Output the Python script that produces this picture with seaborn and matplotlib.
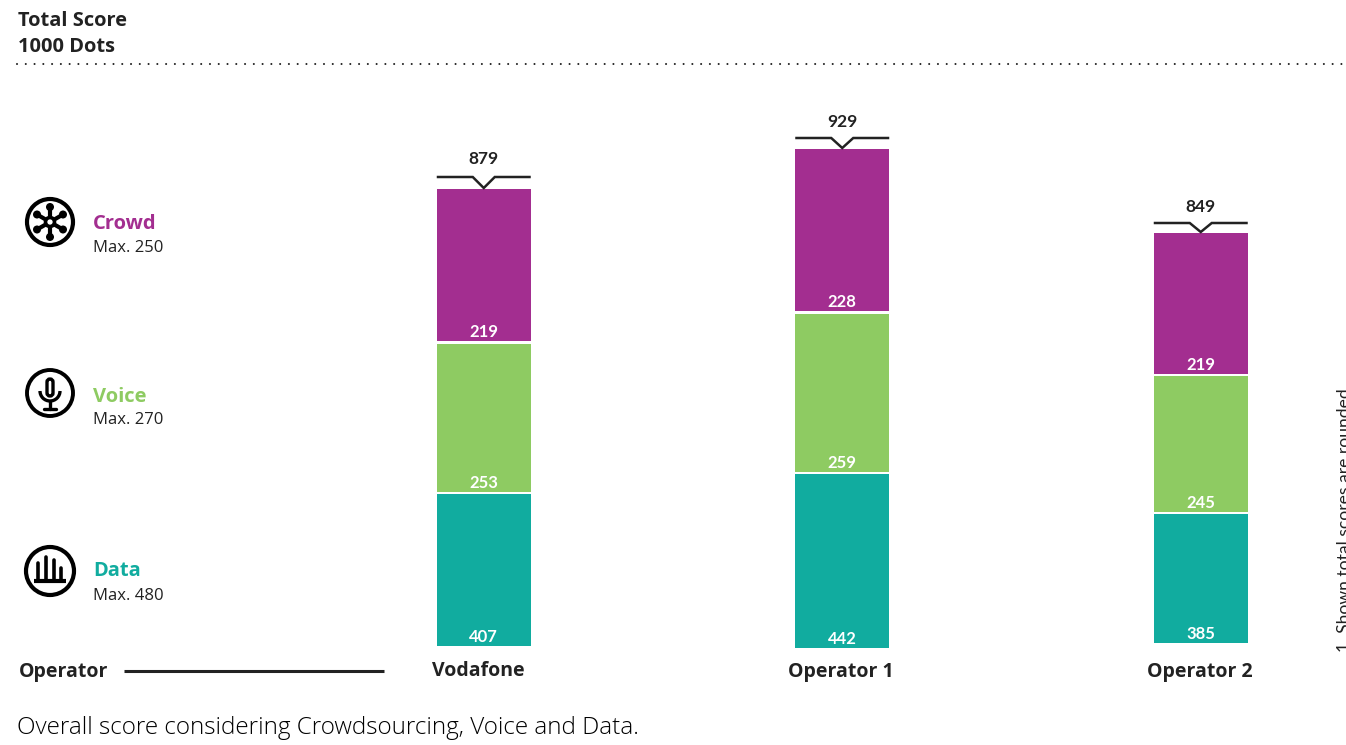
import numpy as np
import matplotlib
matplotlib.use("Agg")
import matplotlib.pyplot as plt
from matplotlib.patches import Circle, Arc, FancyBboxPatch
import seaborn as sns

operators = ["Vodafone", "Operator 1", "Operator 2"]
series_names = ["Data", "Voice", "Crowd"]
series_max = [480, 270, 250]

# printed scores
data_scores = [407, 442, 385]
voice_scores = [253, 259, 245]
crowd_scores = [219, 228, 219]
total_scores = [879, 929, 849]

# the segments in the picture are not proportional to the printed scores,
# so the drawn lengths are read off separately
data_drawn = [152, 174, 129]
voice_drawn = [148, 158, 135.5]
crowd_drawn = [152, 162, 140.5]
base_shift = [0, -2, 3]

# distance of bracket and total label above each bar
bracket_gap = [12, 11, 10]
total_gap = [30, 27, 26]

colors = ["#11AC9F", "#8ECB62", "#A32E90"]
ink = "#222222"

sns.set_theme(style="white")
plt.rcParams["font.family"] = ["Open Sans", "DejaVu Sans"]

fig = plt.figure(figsize=(13.46, 7.45), dpi=100)

# bars: one y unit is one pixel, zero at the Vodafone baseline
ax = fig.add_axes([0, 0, 1, 1])
step = 358.5
gap = 2.5
bottoms = np.array(base_shift, dtype=float)
tops = []
for name, drawn, scores, col in zip(series_names,
                                    [data_drawn, voice_drawn, crowd_drawn],
                                    [data_scores, voice_scores, crowd_scores],
                                    colors):
    sns.barplot(x=operators, y=drawn, bottom=bottoms, color=col, saturation=1,
                width=94 / step, errorbar=None, linewidth=0, ax=ax)
    for i, s in enumerate(scores):
        ax.text(i, bottoms[i] + 9, str(s), color="white", fontsize=12,
                family="Lato", fontweight="bold", ha="center", va="center")
    tops = bottoms + np.array(drawn)
    bottoms = tops + gap

# total brackets
hw = 47 / step
nw = 11 / step
for i, t in enumerate(total_scores):
    up = tops[i] + bracket_gap[i]
    ax.plot([i - hw, i - nw, i, i + nw, i + hw],
            [up, up, tops[i] + 1, up, up],
            color=ink, lw=1.8, solid_joinstyle="miter", solid_capstyle="butt")
    ax.text(i, tops[i] + total_gap[i], str(t), color=ink, fontsize=12.5,
            family="Lato", fontweight="bold", ha="center", va="center")

ax.set_xlim(-483.75 / step, (1346 - 483.75) / step)
ax.set_ylim(-(745 - 646), 646)
ax.axis("off")

# everything around the bars, in pixels from the top left
ov = fig.add_axes([0, 0, 1, 1], facecolor="none")
ov.set_xlim(0, 1346)
ov.set_ylim(745, 0)
ov.axis("off")

ov.text(18, 21.5, "Total Score", color=ink, fontsize=14.4, fontweight="bold", va="center")
ov.text(18, 47.5, "1000 Dots", color=ink, fontsize=14.4, fontweight="bold", va="center")
ov.plot([17, 1346], [64, 64], color=ink, lw=1.5, linestyle=(0, (0.01, 4.2)),
        dash_capstyle="round")

ov.text(19, 676.5, "Operator", color=ink, fontsize=14, fontweight="bold", va="baseline")
ov.plot([124, 384], [671, 671], color=ink, lw=2.2, solid_capstyle="butt")
for lab, x in zip(operators, [478, 841, 1200]):
    ov.text(x, 676.5, lab, color=ink, fontsize=14, fontweight="bold", ha="center", va="baseline")

ov.text(17, 728, "Overall score considering Crowdsourcing, Voice and Data.",
        color="black", fontsize=17.5, fontweight="light", va="center")
ov.text(1337, 652, "1  Shown total scores are rounded", color=ink, fontsize=12.6,
        family="Lato", rotation=90, ha="left", va="bottom", clip_on=False)

# legend text
for name, mx, col, y1, y2 in zip(series_names, series_max, colors,
                                 [571, 397, 224], [596, 420, 248]):
    ov.text(93, y1, name, color=col, fontsize=14.5, fontweight="bold", va="center")
    ov.text(93, y2, f"Max. {mx}", color=ink, fontsize=12, va="center")

# crowd icon
cx, cy = 50, 222
ov.add_patch(Circle((cx, cy), 23, fc="none", ec="black", lw=3))
for a in np.deg2rad([90, 30, -30, -90, 150, 210]):
    x, y = cx + 15 * np.cos(a), cy + 15 * np.sin(a)
    ov.plot([cx, x], [cy, y], color="black", lw=3)
    ov.add_patch(Circle((x, y), 4, fc="black", ec="none"))
ov.add_patch(Circle((cx, cy), 4.5, fc="white", ec="black", lw=2.6, zorder=3))

# voice icon
cx, cy = 50, 393
ov.add_patch(Circle((cx, cy), 23, fc="none", ec="black", lw=2.8))
ov.add_patch(FancyBboxPatch((cx - 3, cy - 14), 6, 17, boxstyle="round,pad=0,rounding_size=3",
                            fc="none", ec="black", lw=2.4))
ov.add_patch(Arc((cx, cy - 2), 20, 20, theta1=0, theta2=180, ec="black", lw=2.4))
ov.plot([cx, cx], [cy + 8, cy + 16], color="black", lw=2.4)
ov.plot([cx - 6, cx + 6], [cy + 16, cy + 16], color="black", lw=2.4)

# data icon
cx, cy = 50, 571
ov.add_patch(Circle((cx, cy), 24, fc="none", ec="black", lw=3))
ov.plot([34, 66], [581, 581], color="black", lw=3, solid_capstyle="butt")
for x, top in zip([38, 46, 54, 61], [563, 557, 560, 568]):
    ov.plot([x, x], [581, top], color="black", lw=2.6)

plt.savefig("out.png", dpi=100)
